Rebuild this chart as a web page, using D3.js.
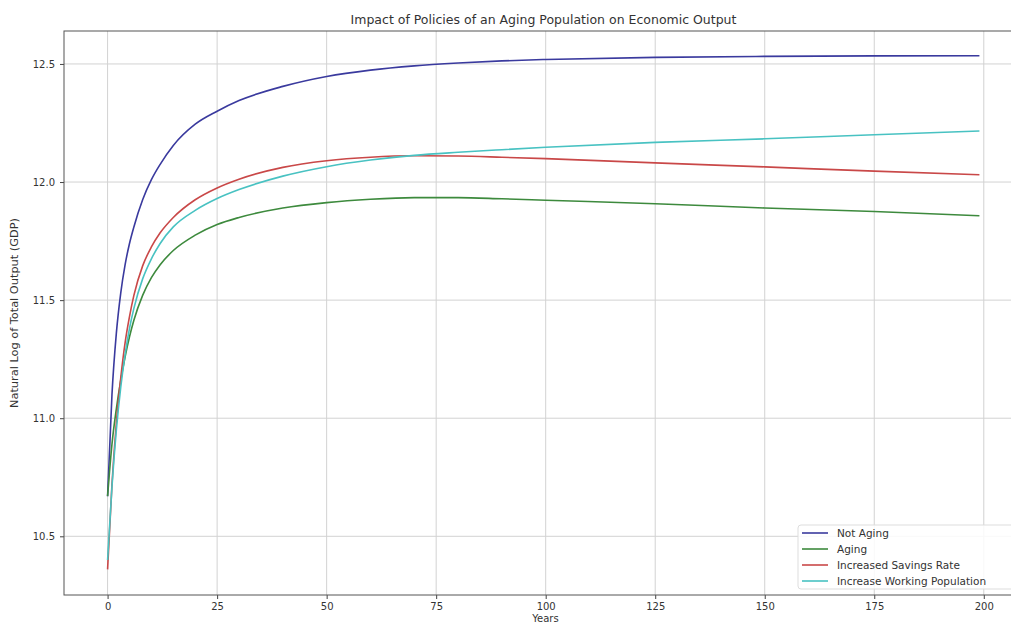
<!DOCTYPE html>
<html>
<head>
<meta charset="utf-8">
<script src="https://cdn.jsdelivr.net/npm/d3@7"></script>
<style>
    body { margin: 0; background: #fff; }
    #canvas { width: 1011px; height: 623px; overflow: hidden; }
    text { font-family: "DejaVu Sans", sans-serif; fill: #333; }
</style>
</head>
<body>
<div id="canvas"></div>
<script>
// years
var years = [0, 1, 2, 3, 4, 5, 6, 8, 10, 12, 15, 20, 25, 30, 40, 50, 60, 70, 80, 90, 100, 125, 150, 175, 199];

// ln(GDP) per scenario
var notAging = [10.67, 11.10, 11.36, 11.53, 11.65, 11.74, 11.81, 11.925, 12.01, 12.075, 12.155, 12.245, 12.30, 12.345, 12.405, 12.447, 12.474, 12.492, 12.504, 12.513, 12.519, 12.528, 12.532, 12.534, 12.535];
var aging = [10.67, 10.89, 11.04, 11.16, 11.26, 11.345, 11.415, 11.52, 11.595, 11.65, 11.71, 11.775, 11.82, 11.85, 11.89, 11.913, 11.927, 11.934, 11.934, 11.929, 11.923, 11.908, 11.89, 11.875, 11.857];
var savingsRate = [10.36, 10.72, 10.98, 11.17, 11.32, 11.43, 11.52, 11.645, 11.725, 11.785, 11.85, 11.925, 11.975, 12.012, 12.062, 12.09, 12.105, 12.111, 12.11, 12.105, 12.099, 12.081, 12.064, 12.046, 12.031];
var workingPop = [10.40, 10.71, 10.95, 11.13, 11.27, 11.38, 11.465, 11.59, 11.675, 11.74, 11.81, 11.88, 11.93, 11.968, 12.025, 12.065, 12.093, 12.113, 12.126, 12.137, 12.147, 12.168, 12.183, 12.20, 12.216];

var seriesNames = ["Not Aging", "Aging", "Increased Savings Rate", "Increase Working Population"];
var seriesColors = ["#3a3a9e", "#3d8a3d", "#c94848", "#48c2c2"];
var seriesValues = [notAging, aging, savingsRate, workingPop];

var xTicks = [0, 25, 50, 75, 100, 125, 150, 175, 200];
var yTicks = [10.5, 11.0, 11.5, 12.0, 12.5];

var W = 1011, H = 623;
var plotL = 64, plotR = 1023, plotT = 31, plotB = 595;

var svg = d3.select("#canvas").append("svg")
    .attr("width", W)
    .attr("height", H);

// matplotlib-like 5% margins
var x = d3.scaleLinear().domain([-9.95, 208.95]).range([plotL, plotR]);
var y = d3.scaleLinear().domain([10.2515, 12.6395]).range([plotB, plotT]);

//grid
svg.append("g").selectAll("line").data(xTicks).enter().append("line")
    .attr("x1", d => x(d)).attr("x2", d => x(d))
    .attr("y1", plotT).attr("y2", plotB)
    .attr("stroke", "#d2d2d2").attr("stroke-width", 1);
svg.append("g").selectAll("line").data(yTicks).enter().append("line")
    .attr("x1", plotL).attr("x2", plotR)
    .attr("y1", d => y(d)).attr("y2", d => y(d))
    .attr("stroke", "#d2d2d2").attr("stroke-width", 1);

//axes
var xAxis = svg.append("g")
    .attr("transform", "translate(0," + plotB + ")")
    .call(d3.axisBottom(x).tickValues(xTicks).tickSize(4).tickPadding(4).tickFormat(d3.format("d")));
var yAxis = svg.append("g")
    .attr("transform", "translate(" + plotL + ",0)")
    .call(d3.axisLeft(y).tickValues(yTicks).tickSize(4).tickPadding(5).tickFormat(d3.format(".1f")));
[xAxis, yAxis].forEach(function (a) {
    a.select(".domain").remove();
    a.selectAll("line").attr("stroke", "#444");
    a.selectAll("text").style("font-size", "10px").style("fill", "#333");
});

//frame
svg.append("rect")
    .attr("x", plotL).attr("y", plotT)
    .attr("width", plotR - plotL).attr("height", plotB - plotT)
    .attr("fill", "none").attr("stroke", "#555").attr("stroke-width", 1);

//lines
var line = d3.line()
    .x((d, i) => x(years[i]))
    .y(d => y(d))
    .curve(d3.curveMonotoneX);

seriesValues.forEach(function (vals, i) {
    svg.append("path")
        .datum(vals)
        .attr("d", line)
        .attr("fill", "none")
        .attr("stroke", seriesColors[i])
        .attr("stroke-width", 1.6);
});

//title and labels
svg.append("text")
    .attr("x", (plotL + plotR) / 2).attr("y", 24)
    .attr("text-anchor", "middle")
    .style("font-size", "12.5px")
    .text("Impact of Policies of an Aging Population on Economic Output");

svg.append("text")
    .attr("x", (plotL + plotR) / 2 + 2).attr("y", 622)
    .attr("text-anchor", "middle")
    .style("font-size", "10px")
    .text("Years");

svg.append("text")
    .attr("transform", "translate(18," + ((plotT + plotB) / 2) + ") rotate(-90)")
    .attr("text-anchor", "middle")
    .style("font-size", "10px")
    .attr("textLength", 190)
    .attr("lengthAdjust", "spacingAndGlyphs")
    .text("Natural Log of Total Output (GDP)");

//legend
var legend = svg.append("g");
legend.append("rect")
    .attr("x", 798).attr("y", 525)
    .attr("width", 240).attr("height", 64)
    .attr("rx", 3)
    .attr("fill", "#fff").attr("fill-opacity", 0.85)
    .attr("stroke", "#ddd");
seriesNames.forEach(function (name, i) {
    var ly = 533 + i * 16;
    legend.append("line")
        .attr("x1", 802).attr("x2", 828)
        .attr("y1", ly).attr("y2", ly)
        .attr("stroke", seriesColors[i]).attr("stroke-width", 1.6);
    legend.append("text")
        .attr("x", 837).attr("y", ly + 4)
        .style("font-size", "10.5px")
        .text(name);
});
</script>
</body>
</html>
